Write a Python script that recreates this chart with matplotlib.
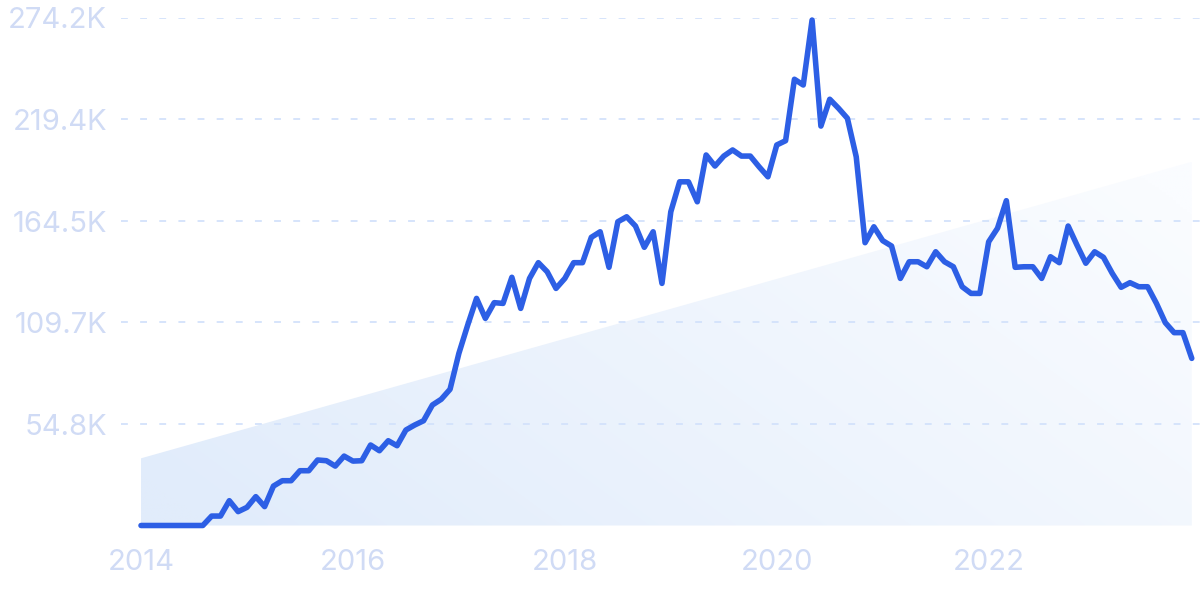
import numpy as np
import matplotlib
matplotlib.use('Agg')
import matplotlib.pyplot as plt
from matplotlib.patches import Polygon

# monthly values (thousands), Jan 2014 .. Dec 2023
values = [
    0, 0, 0, 0, 0, 0, 0, 0, 5.1, 5.1, 13.4, 7.5,
    9.8, 15.6, 10.2, 21.3, 24.2, 24.2, 29.6, 29.6, 35.4, 35.0, 32.1, 37.5,
    34.8, 35.0, 43.5, 40.4, 45.8, 43.1, 51.6, 54.3, 56.6, 65.1, 68.2, 73.6,
    93.0, 108.3, 122.7, 111.9, 120.4, 120.0, 134.1, 117.3, 133.5, 142.0, 137.1, 128.1,
    133.5, 142.0, 142.0, 155.7, 158.7, 139.5, 164.1, 166.8, 161.8, 150.3, 158.7, 130.8,
    169.5, 185.7, 185.7, 174.9, 200.2, 194.2, 199.6, 202.9, 199.6, 199.6, 193.8, 188.4,
    205.6, 207.9, 241.1, 238.0, 273.1, 215.8, 230.3, 225.4, 220.0, 199.2, 152.8, 161.4,
    153.9, 151.0, 133.5, 142.5, 142.5, 139.8, 147.9, 142.5, 139.8, 129.0, 125.4, 125.4,
    153.3, 160.6, 175.5, 139.5, 139.8, 139.8, 133.5, 145.2, 142.0, 161.8, 151.5, 141.7,
    147.9, 144.9, 136.2, 128.7, 131.2, 129.0, 129.0, 120.0, 109.6, 104.2, 104.2, 90.3,
]
trend_start = 36.3
trend_end = 196.5

year_labels = ['2014', '2016', '2018', '2020', '2022']
year_ticks = [0, 24, 48, 72, 96]
y_ticks = [54.8, 109.7, 164.5, 219.4, 274.2]
y_labels = ['54.8K', '109.7K', '164.5K', '219.4K', '274.2K']

line_color = '#2d5fe5'
label_color = '#d0dbf5'
grid_color = '#d3e2fb'

plt.rcParams['font.family'] = ['Inter', 'DejaVu Sans']

fig = plt.figure(figsize=(12, 5.99), dpi=100)
ax = fig.add_axes([121 / 1200, 1 - 525.5 / 599, 1 - 121 / 1200, (525.5 - 18) / 599])

x = np.arange(len(values))
xmin = (121 - 141) / 8.83
xmax = (1200 - 141) / 8.83
ax.set_xlim(xmin, xmax)
ax.set_ylim(0, 274.2)

# trend area with a soft gradient
x_last = len(values) - 1
poly = Polygon([(0, 0), (0, trend_start), (x_last, trend_end), (x_last, 0)],
               closed=True, facecolor='none', edgecolor='none')
ax.add_patch(poly)
u = np.linspace(0, 1, 300)
v = np.linspace(0, 1, 150)
U, V = np.meshgrid(u, v)
t = np.clip(0.75 * U + 0.35 * (1 - V) - 0.05, 0, 1)
c0 = np.array([225, 236, 251]) / 255
c1 = np.array([250, 252, 255]) / 255
img = c0[None, None, :] * (1 - t[..., None]) + c1[None, None, :] * t[..., None]
im = ax.imshow(img, extent=(0, x_last, 0, trend_end), origin='upper',
               aspect='auto', zorder=1, interpolation='bilinear')
im.set_clip_path(poly)

for yt in y_ticks:
    ax.axhline(yt, color=grid_color, lw=1.3, linestyle=(0, (3.8, 6.8)), zorder=2)

ax.plot(x, values, color=line_color, lw=4, solid_joinstyle='round',
        solid_capstyle='round', zorder=3, clip_on=False)

ax.set_xticks(year_ticks)
ax.set_xticklabels(year_labels)
ax.set_yticks(y_ticks)
ax.set_yticklabels(y_labels)
ax.tick_params(axis='both', length=0, labelsize=21, colors=label_color)
ax.tick_params(axis='x', pad=17)
ax.tick_params(axis='y', pad=10)
for s in ax.spines.values():
    s.set_visible(False)

fig.savefig('out.png', dpi=100, facecolor='white')
